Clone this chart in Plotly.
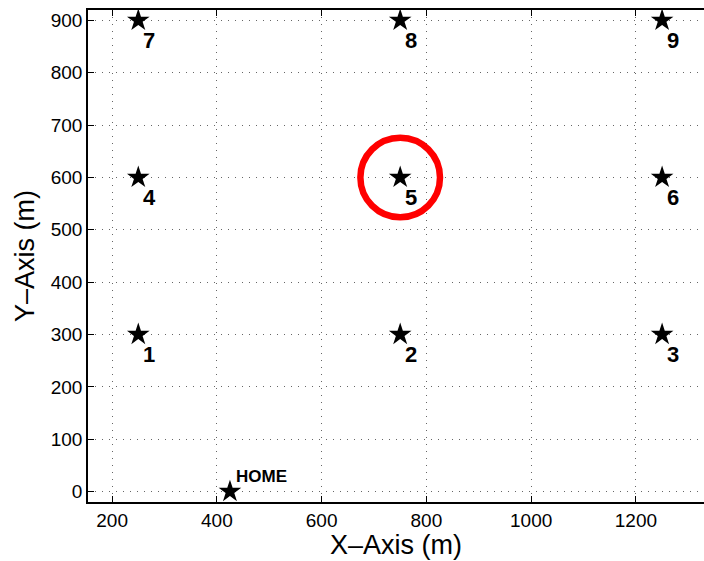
import plotly.graph_objects as go

# Data
wp_x = [250, 750, 1250, 250, 750, 1250, 250, 750, 1250]
wp_y = [300, 300, 300, 600, 600, 600, 900, 900, 900]
wp_labels = ["1", "2", "3", "4", "5", "6", "7", "8", "9"]
home_x = [425]
home_y = [0]
home_label = "HOME"
circle_center = (750, 600)
circle_radius = 76
x_ticks = [200, 400, 600, 800, 1000, 1200]
y_ticks = [0, 100, 200, 300, 400, 500, 600, 700, 800, 900]

FONT = "Liberation Sans, Arial, Helvetica, sans-serif"

fig = go.Figure()

fig.add_trace(go.Scatter(
    x=wp_x, y=wp_y, mode="markers",
    marker=dict(symbol="star", size=17, color="black", line=dict(width=0)),
    showlegend=False, hoverinfo="skip", cliponaxis=False))
fig.add_trace(go.Scatter(
    x=home_x, y=home_y, mode="markers",
    marker=dict(symbol="star", size=17, color="black", line=dict(width=0)),
    showlegend=False, hoverinfo="skip", cliponaxis=False))

annotations = []
for x, y, t in zip(wp_x, wp_y, wp_labels):
    annotations.append(dict(x=x, y=y, text="<b>%s</b>" % t, showarrow=False,
                            xshift=11, yshift=-20,
                            font=dict(family=FONT, size=22, color="black")))
annotations.append(dict(x=home_x[0], y=home_y[0], text="<b>%s</b>" % home_label,
                        showarrow=False, xanchor="left", xshift=4, yshift=15,
                        font=dict(family=FONT, size=17, color="black")))
annotations.append(dict(x=0.5, y=0, xref="paper", yref="paper", text="X\u2013Axis (m)",
                        showarrow=False, yanchor="middle", yshift=-43,
                        font=dict(family=FONT, size=27, color="black")))
annotations.append(dict(x=0, y=0.5, xref="paper", yref="paper", text="Y\u2013Axis (m)",
                        showarrow=False, textangle=-90, xanchor="center", xshift=-63,
                        font=dict(family=FONT, size=27, color="black")))

cx, cy = circle_center
fig.add_shape(type="circle", xref="x", yref="y",
              x0=cx - circle_radius, x1=cx + circle_radius,
              y0=cy - circle_radius, y1=cy + circle_radius,
              line=dict(color="red", width=6.5))

fig.update_layout(
    width=704, height=561,
    margin=dict(l=88, r=0, t=10, b=59),
    paper_bgcolor="white", plot_bgcolor="white",
    annotations=annotations,
    font=dict(family=FONT, size=19, color="black"),
)
fig.update_xaxes(range=[154, 1330], tickvals=x_ticks, ticks="inside", ticklen=6,
                 tickcolor="black", showline=True, linecolor="black", linewidth=1.5,
                 mirror="ticks",
                 showgrid=True, gridcolor="#666666", griddash="1px,6px", gridwidth=1.2,
                 zeroline=False, tickfont=dict(size=19), fixedrange=True)
fig.update_yaxes(range=[-20, 920], tickvals=y_ticks, ticks="inside", ticklen=6,
                 tickcolor="black", showline=True, linecolor="black", linewidth=1.5,
                 showgrid=True, gridcolor="#666666", griddash="1px,6px", gridwidth=1.2,
                 zeroline=False, tickfont=dict(size=19), fixedrange=True)

fig.write_html("out.html")
